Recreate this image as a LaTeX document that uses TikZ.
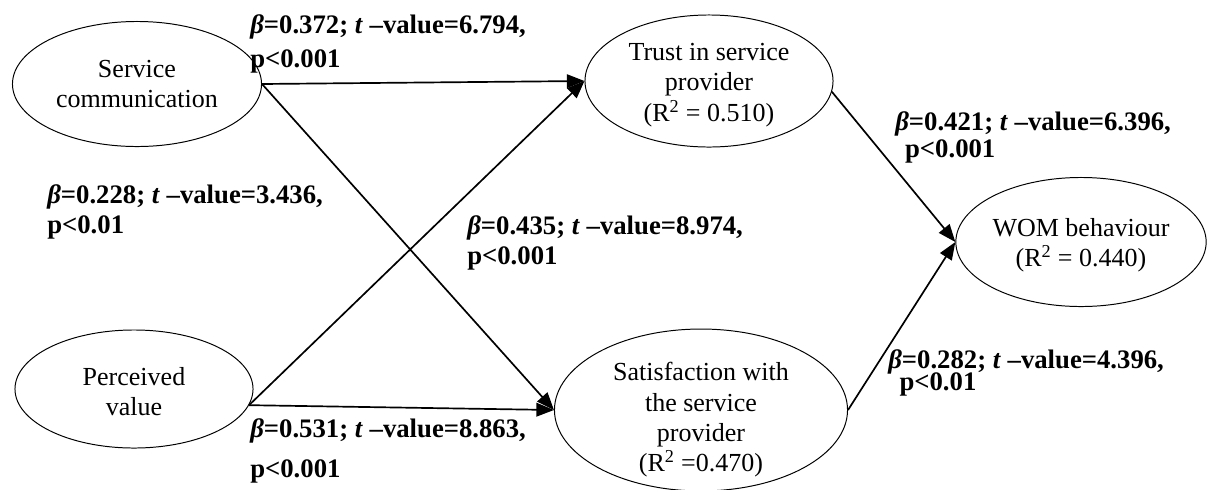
\documentclass[tikz,border=0pt]{standalone}
\usepackage{fontspec}
\setmainfont{Liberation Serif}
\usetikzlibrary{arrows.meta, shapes.geometric}

\begin{document}
\begin{tikzpicture}[
  x=0.025cm, y=-0.025cm,
  construct/.style={draw, ellipse, line width=0.7pt, align=center, inner sep=0pt, font=\fontsize{18.5}{21.5}\selectfont},
  link/.style={line width=1.2pt, -{Triangle[length=4.4mm, width=3.4mm]}},
  coef/.style={font=\fontsize{19}{21}\selectfont\bfseries, align=left, anchor=base west, inner sep=0pt}
]
\useasboundingbox (0,0) rectangle (1213,489);
\clip (0,0) rectangle (1213,489);

% Constructos
\node[construct, minimum width=6.225cm, minimum height=3.125cm] (sc) at (137,84) {Service\\communication};
\node[construct, minimum width=5.95cm, minimum height=2.95cm] (pv) at (134,389) {\rule{0pt}{17pt}Perceived\\value};
\node[construct, minimum width=6.2cm, minimum height=3.3cm] (trust) at (709,81) {\rule{0pt}{18pt}Trust in service\\provider\\(R\textsuperscript{2} = 0.510)};
\node[construct, minimum width=7.325cm, minimum height=4.0cm, inner ysep=-7pt] (sat) at (701,410) {\rule{0pt}{27pt}Satisfaction with\\the service\\provider\\(R\textsuperscript{2} =0.470)};
\node[construct, minimum width=6.2cm, minimum height=3.225cm] (wom) at (1081,242) {\rule{0pt}{17pt}WOM behaviour\\(R\textsuperscript{2} = 0.440)};

% Caminos
\draw[link] (sc.east) -- (trust.west);
\draw[link] (sc.east) -- (sat.west);
\draw[link] (pv.-8) -- (trust.west);
\draw[link] (pv.-8) -- (sat.west);
\draw[link] (trust.-5) -- (wom.west);
\draw[link] (sat.east) -- (wom.west);

% Coeficientes (ancla en la linea base de la ultima linea)
\node[coef] (b1) at (250,67) {\textit{β}=0.372; \textit{t} –value=6.794,\\[3pt] p<0.001};
\node[coef] (b2) at (47,233) {\textit{β}=0.228; \textit{t} –value=3.436,\\ p<0.01};
\node[coef] (b3) at (467,264) {\textit{β}=0.435; \textit{t} –value=8.974,\\ p<0.001};
\node[coef] (b4) at (895,157) {\textit{β}=0.421; \textit{t} –value=6.396,\\[-2pt] \hspace*{7pt}p<0.001};
\node[coef] (b5) at (888,390) {\textit{β}=0.282; \textit{t} –value=4.396,\\[-5.4pt] \hspace*{8pt}p<0.01};
\node[coef] (b6) at (250,477) {\textit{β}=0.531; \textit{t} –value=8.863,\\[7.4pt] p<0.001};

\end{tikzpicture}
\end{document}
